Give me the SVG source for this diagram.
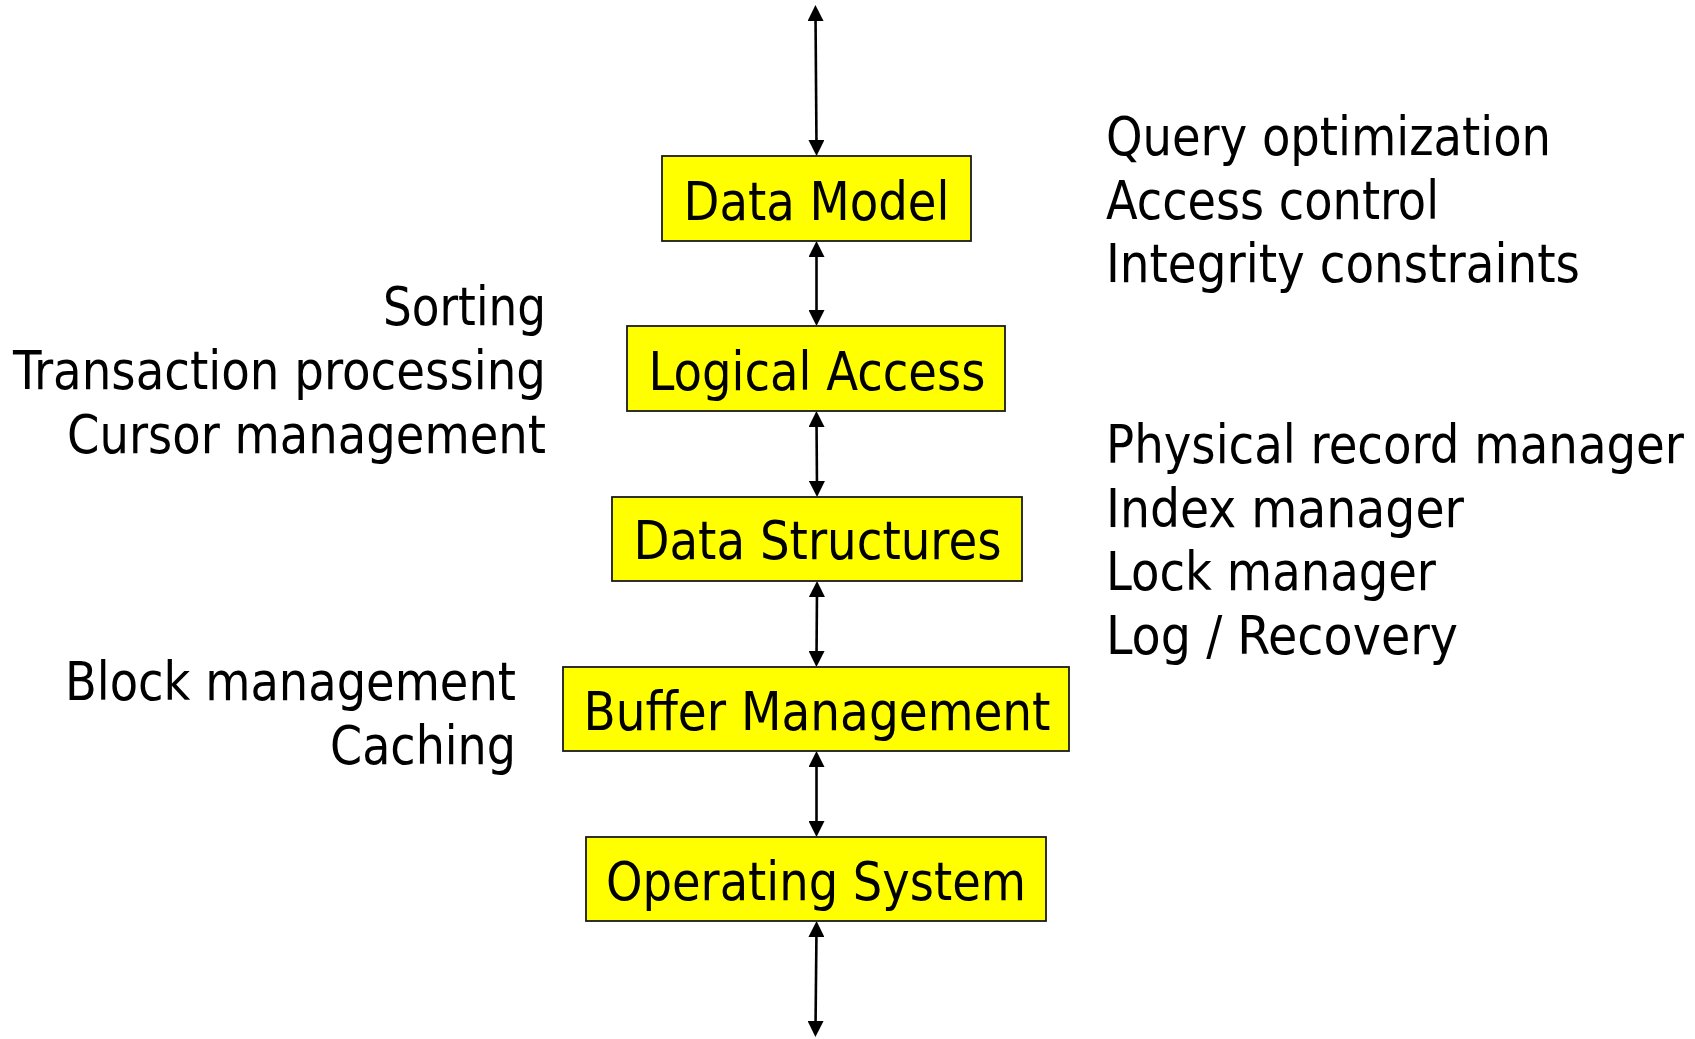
<svg xmlns="http://www.w3.org/2000/svg" width="1695" height="1039" viewBox="0 0 1695 1039">
  <style>
    text { font-family: "DejaVu Sans Condensed", "DejaVu Sans", sans-serif; font-size: 53px; fill: #000; }
    .box { fill: #ffff00; stroke: #1a1a1a; stroke-width: 1.8; }
    .label { text-anchor: middle; }
    .left { text-anchor: end; }
    .link { stroke: #000; stroke-width: 2.6; fill: none; marker-start: url(#head); marker-end: url(#head); }
  </style>
  <defs>
    <marker id="head" viewBox="0 0 16 16" refX="8" refY="8" markerWidth="16" markerHeight="16" markerUnits="userSpaceOnUse" orient="auto-start-reverse">
      <path d="M0,0 L16,8 L0,16 z" fill="#000"/>
    </marker>
  </defs>

  <rect width="1695" height="1039" fill="#fff"/>

  <!-- connectors between the layers -->
  <g id="connectors">
    <line class="link" x1="815.5" y1="13" x2="816.5" y2="148"/>
    <line class="link" x1="816.5" y1="249" x2="816.5" y2="318"/>
    <line class="link" x1="816.5" y1="419" x2="817" y2="489"/>
    <line class="link" x1="817" y1="589" x2="816.5" y2="659"/>
    <line class="link" x1="816.5" y1="759" x2="816.5" y2="829"/>
    <line class="link" x1="816.5" y1="929" x2="815.5" y2="1029"/>
  </g>

  <!-- layer stack -->
  <g id="data-model">
    <rect class="box" x="662" y="156" width="309" height="85"/>
    <text class="label" x="816.5" y="220" textLength="266" lengthAdjust="spacingAndGlyphs">Data Model</text>
  </g>
  <g id="logical-access">
    <rect class="box" x="627" y="326" width="378" height="85"/>
    <text class="label" x="817" y="389.5" textLength="337" lengthAdjust="spacingAndGlyphs">Logical Access</text>
  </g>
  <g id="data-structures">
    <rect class="box" x="612" y="497" width="410" height="84"/>
    <text class="label" x="817.5" y="559" textLength="368" lengthAdjust="spacingAndGlyphs">Data Structures</text>
  </g>
  <g id="buffer-management">
    <rect class="box" x="563" y="667" width="506" height="84"/>
    <text class="label" x="817" y="729.5" textLength="467" lengthAdjust="spacingAndGlyphs">Buffer Management</text>
  </g>
  <g id="operating-system">
    <rect class="box" x="586" y="837" width="460" height="84"/>
    <text class="label" x="816" y="900" textLength="420" lengthAdjust="spacingAndGlyphs">Operating System</text>
  </g>

  <!-- annotations on the left -->
  <g id="notes-left-upper">
    <text class="left" x="546" y="325" textLength="163" lengthAdjust="spacingAndGlyphs">Sorting</text>
    <text class="left" x="546" y="388.5" textLength="533" lengthAdjust="spacingAndGlyphs">Transaction processing</text>
    <text class="left" x="546" y="452.5" textLength="479" lengthAdjust="spacingAndGlyphs">Cursor management</text>
  </g>
  <g id="notes-left-lower">
    <text class="left" x="516" y="700" textLength="451" lengthAdjust="spacingAndGlyphs">Block management</text>
    <text class="left" x="516" y="764" textLength="186" lengthAdjust="spacingAndGlyphs">Caching</text>
  </g>

  <!-- annotations on the right -->
  <g id="notes-right-upper">
    <text x="1106" y="155" textLength="445" lengthAdjust="spacingAndGlyphs">Query optimization</text>
    <text x="1106" y="218.5" textLength="333" lengthAdjust="spacingAndGlyphs">Access control</text>
    <text x="1106" y="282" textLength="474" lengthAdjust="spacingAndGlyphs">Integrity constraints</text>
  </g>
  <g id="notes-right-lower">
    <text x="1106" y="462.5" textLength="578" lengthAdjust="spacingAndGlyphs">Physical record manager</text>
    <text x="1106" y="526.5" textLength="358" lengthAdjust="spacingAndGlyphs">Index manager</text>
    <text x="1106" y="590" textLength="330" lengthAdjust="spacingAndGlyphs">Lock manager</text>
    <text x="1106" y="653.5" textLength="352" lengthAdjust="spacingAndGlyphs">Log / Recovery</text>
  </g>
</svg>
